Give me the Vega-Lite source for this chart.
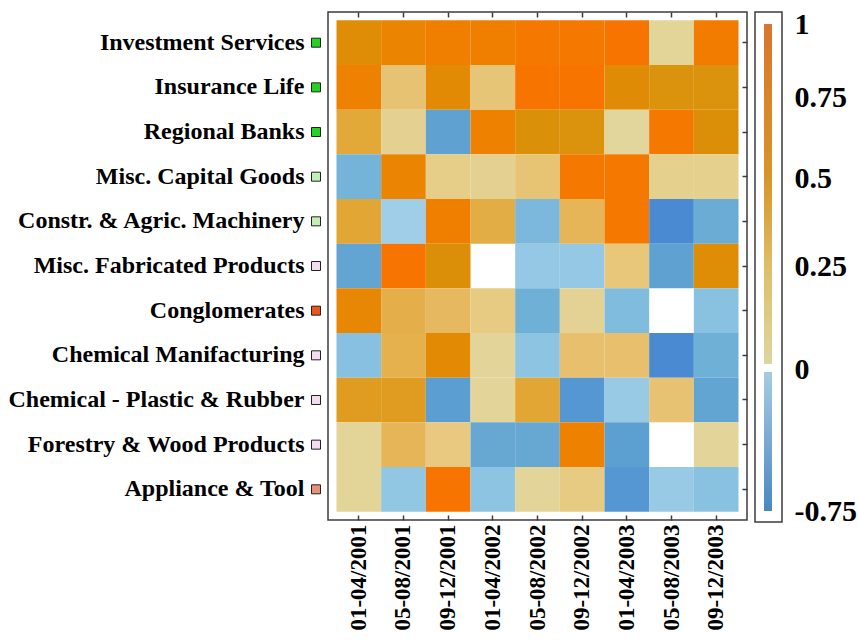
{
  "$schema": "https://vega.github.io/schema/vega-lite/v6.json",
  "background": "white",
  "padding": {"left": 8, "top": 8, "right": 0, "bottom": 0},
  "bounds": "flush",
  "config": {
    "font": "Liberation Serif",
    "view": {"stroke": null},
    "axis": {"labelFont": "Liberation Serif", "labelFontWeight": "bold", "labelColor": "black", "tickColor": "#3c3c3c", "tickWidth": 1.5, "domain": false, "title": null, "grid": false, "minExtent": 0}
  },
  "datasets": {
    "rows": [
      {"sector": "Investment Services", "group": "Financial"},
      {"sector": "Insurance Life", "group": "Financial"},
      {"sector": "Regional Banks", "group": "Financial"},
      {"sector": "Misc. Capital Goods", "group": "Capital Goods"},
      {"sector": "Constr. & Agric. Machinery", "group": "Capital Goods"},
      {"sector": "Misc. Fabricated Products", "group": "Basic Materials"},
      {"sector": "Conglomerates", "group": "Conglomerates"},
      {"sector": "Chemical Manifacturing", "group": "Basic Materials"},
      {"sector": "Chemical - Plastic & Rubber", "group": "Basic Materials"},
      {"sector": "Forestry & Wood Products", "group": "Basic Materials"},
      {"sector": "Appliance & Tool", "group": "Consumer Cyclical"}
    ],
    "cells": [
      {"s": "Investment Services", "p": "01-04/2001", "v": 0.68},
      {"s": "Investment Services", "p": "05-08/2001", "v": 0.78},
      {"s": "Investment Services", "p": "09-12/2001", "v": 0.85},
      {"s": "Investment Services", "p": "01-04/2002", "v": 0.85},
      {"s": "Investment Services", "p": "05-08/2002", "v": 0.95},
      {"s": "Investment Services", "p": "09-12/2002", "v": 0.95},
      {"s": "Investment Services", "p": "01-04/2003", "v": 1.0},
      {"s": "Investment Services", "p": "05-08/2003", "v": 0.05},
      {"s": "Investment Services", "p": "09-12/2003", "v": 0.88},
      {"s": "Insurance Life", "p": "01-04/2001", "v": 0.82},
      {"s": "Insurance Life", "p": "05-08/2001", "v": 0.18},
      {"s": "Insurance Life", "p": "09-12/2001", "v": 0.72},
      {"s": "Insurance Life", "p": "01-04/2002", "v": 0.16},
      {"s": "Insurance Life", "p": "05-08/2002", "v": 1.0},
      {"s": "Insurance Life", "p": "09-12/2002", "v": 1.0},
      {"s": "Insurance Life", "p": "01-04/2003", "v": 0.7},
      {"s": "Insurance Life", "p": "05-08/2003", "v": 0.6},
      {"s": "Insurance Life", "p": "09-12/2003", "v": 0.6},
      {"s": "Regional Banks", "p": "01-04/2001", "v": 0.4},
      {"s": "Regional Banks", "p": "05-08/2001", "v": 0.07},
      {"s": "Regional Banks", "p": "09-12/2001", "v": -0.55},
      {"s": "Regional Banks", "p": "01-04/2002", "v": 0.8},
      {"s": "Regional Banks", "p": "05-08/2002", "v": 0.62},
      {"s": "Regional Banks", "p": "09-12/2002", "v": 0.6},
      {"s": "Regional Banks", "p": "01-04/2003", "v": 0.03},
      {"s": "Regional Banks", "p": "05-08/2003", "v": 0.95},
      {"s": "Regional Banks", "p": "09-12/2003", "v": 0.63},
      {"s": "Misc. Capital Goods", "p": "01-04/2001", "v": -0.38},
      {"s": "Misc. Capital Goods", "p": "05-08/2001", "v": 0.78},
      {"s": "Misc. Capital Goods", "p": "09-12/2001", "v": 0.1},
      {"s": "Misc. Capital Goods", "p": "01-04/2002", "v": 0.07},
      {"s": "Misc. Capital Goods", "p": "05-08/2002", "v": 0.17},
      {"s": "Misc. Capital Goods", "p": "09-12/2002", "v": 0.95},
      {"s": "Misc. Capital Goods", "p": "01-04/2003", "v": 0.95},
      {"s": "Misc. Capital Goods", "p": "05-08/2003", "v": 0.08},
      {"s": "Misc. Capital Goods", "p": "09-12/2003", "v": 0.08},
      {"s": "Constr. & Agric. Machinery", "p": "01-04/2001", "v": 0.42},
      {"s": "Constr. & Agric. Machinery", "p": "05-08/2001", "v": -0.08},
      {"s": "Constr. & Agric. Machinery", "p": "09-12/2001", "v": 0.85},
      {"s": "Constr. & Agric. Machinery", "p": "01-04/2002", "v": 0.35},
      {"s": "Constr. & Agric. Machinery", "p": "05-08/2002", "v": -0.35},
      {"s": "Constr. & Agric. Machinery", "p": "09-12/2002", "v": 0.28},
      {"s": "Constr. & Agric. Machinery", "p": "01-04/2003", "v": 0.95},
      {"s": "Constr. & Agric. Machinery", "p": "05-08/2003", "v": -0.75},
      {"s": "Constr. & Agric. Machinery", "p": "09-12/2003", "v": -0.45},
      {"s": "Misc. Fabricated Products", "p": "01-04/2001", "v": -0.52},
      {"s": "Misc. Fabricated Products", "p": "05-08/2001", "v": 1.0},
      {"s": "Misc. Fabricated Products", "p": "09-12/2001", "v": 0.63},
      {"s": "Misc. Fabricated Products", "p": "01-04/2002", "v": null},
      {"s": "Misc. Fabricated Products", "p": "05-08/2002", "v": -0.18},
      {"s": "Misc. Fabricated Products", "p": "09-12/2002", "v": -0.18},
      {"s": "Misc. Fabricated Products", "p": "01-04/2003", "v": 0.15},
      {"s": "Misc. Fabricated Products", "p": "05-08/2003", "v": -0.55},
      {"s": "Misc. Fabricated Products", "p": "09-12/2003", "v": 0.68},
      {"s": "Conglomerates", "p": "01-04/2001", "v": 0.75},
      {"s": "Conglomerates", "p": "05-08/2001", "v": 0.33},
      {"s": "Conglomerates", "p": "09-12/2001", "v": 0.25},
      {"s": "Conglomerates", "p": "01-04/2002", "v": 0.12},
      {"s": "Conglomerates", "p": "05-08/2002", "v": -0.42},
      {"s": "Conglomerates", "p": "09-12/2002", "v": 0.06},
      {"s": "Conglomerates", "p": "01-04/2003", "v": -0.32},
      {"s": "Conglomerates", "p": "05-08/2003", "v": null},
      {"s": "Conglomerates", "p": "09-12/2003", "v": -0.27},
      {"s": "Chemical Manifacturing", "p": "01-04/2001", "v": -0.28},
      {"s": "Chemical Manifacturing", "p": "05-08/2001", "v": 0.32},
      {"s": "Chemical Manifacturing", "p": "09-12/2001", "v": 0.72},
      {"s": "Chemical Manifacturing", "p": "01-04/2002", "v": 0.04},
      {"s": "Chemical Manifacturing", "p": "05-08/2002", "v": -0.25},
      {"s": "Chemical Manifacturing", "p": "09-12/2002", "v": 0.2},
      {"s": "Chemical Manifacturing", "p": "01-04/2003", "v": 0.2},
      {"s": "Chemical Manifacturing", "p": "05-08/2003", "v": -0.75},
      {"s": "Chemical Manifacturing", "p": "09-12/2003", "v": -0.42},
      {"s": "Chemical - Plastic & Rubber", "p": "01-04/2001", "v": 0.5},
      {"s": "Chemical - Plastic & Rubber", "p": "05-08/2001", "v": 0.5},
      {"s": "Chemical - Plastic & Rubber", "p": "09-12/2001", "v": -0.6},
      {"s": "Chemical - Plastic & Rubber", "p": "01-04/2002", "v": 0.04},
      {"s": "Chemical - Plastic & Rubber", "p": "05-08/2002", "v": 0.42},
      {"s": "Chemical - Plastic & Rubber", "p": "09-12/2002", "v": -0.65},
      {"s": "Chemical - Plastic & Rubber", "p": "01-04/2003", "v": -0.15},
      {"s": "Chemical - Plastic & Rubber", "p": "05-08/2003", "v": 0.18},
      {"s": "Chemical - Plastic & Rubber", "p": "09-12/2003", "v": -0.52},
      {"s": "Forestry & Wood Products", "p": "01-04/2001", "v": 0.05},
      {"s": "Forestry & Wood Products", "p": "05-08/2001", "v": 0.28},
      {"s": "Forestry & Wood Products", "p": "09-12/2001", "v": 0.13},
      {"s": "Forestry & Wood Products", "p": "01-04/2002", "v": -0.48},
      {"s": "Forestry & Wood Products", "p": "05-08/2002", "v": -0.48},
      {"s": "Forestry & Wood Products", "p": "09-12/2002", "v": 0.8},
      {"s": "Forestry & Wood Products", "p": "01-04/2003", "v": -0.58},
      {"s": "Forestry & Wood Products", "p": "05-08/2003", "v": null},
      {"s": "Forestry & Wood Products", "p": "09-12/2003", "v": 0.04},
      {"s": "Appliance & Tool", "p": "01-04/2001", "v": 0.05},
      {"s": "Appliance & Tool", "p": "05-08/2001", "v": -0.2},
      {"s": "Appliance & Tool", "p": "09-12/2001", "v": 1.0},
      {"s": "Appliance & Tool", "p": "01-04/2002", "v": -0.25},
      {"s": "Appliance & Tool", "p": "05-08/2002", "v": 0.04},
      {"s": "Appliance & Tool", "p": "09-12/2002", "v": 0.12},
      {"s": "Appliance & Tool", "p": "01-04/2003", "v": -0.65},
      {"s": "Appliance & Tool", "p": "05-08/2003", "v": -0.15},
      {"s": "Appliance & Tool", "p": "09-12/2003", "v": -0.27}
    ]
  },
  "spacing": 8,
  "hconcat": [
    {
      "width": 8,
      "height": 508,
      "data": {"name": "rows"},
      "mark": {"type": "square", "size": 81, "filled": true, "opacity": 1, "stroke": "#222222", "strokeWidth": 1},
      "encoding": {
        "y": {"field": "sector", "type": "nominal", "sort": null,
              "scale": {"type": "band", "paddingInner": 0, "paddingOuter": 0.187},
              "axis": {"orient": "left", "ticks": false, "labelFontSize": 24, "labelPadding": 8, "labelLimit": 400}},
        "fill": {"field": "group", "type": "nominal", "legend": null,
                 "scale": {"domain": ["Financial", "Capital Goods", "Basic Materials", "Conglomerates", "Consumer Cyclical"],
                           "range": ["#22d422", "#c2f0b4", "#f2dcf0", "#e8561a", "#e8907a"]}}
      }
    },
    {
      "width": 419,
      "height": 508,
      "data": {"name": "cells"},
      "view": {"stroke": "#3c3c3c", "strokeWidth": 1.5},
      "layer": [
        {
          "mark": {"type": "rect"},
          "encoding": {
            "x": {"field": "p", "type": "nominal", "sort": null,
                  "scale": {"type": "band", "paddingInner": 0, "paddingOuter": 0.19},
                  "axis": {"orient": "bottom", "labelAngle": -90, "labelFontSize": 23, "tickSize": -5, "labelPadding": 9}},
            "y": {"field": "s", "type": "nominal", "sort": null,
                  "scale": {"type": "band", "paddingInner": 0, "paddingOuter": 0.187},
                  "axis": {"orient": "right", "labels": false, "tickSize": -5}},
            "color": {"field": "v", "type": "quantitative", "legend": null,
                      "scale": {"type": "linear", "interpolate": "rgb",
                                "domain": [-0.75, -0.6, -0.5, -0.4, -0.25, -0.1, -0.001, 0, 0.125, 0.25, 0.4, 0.5, 0.62, 0.72, 0.8, 0.9, 1],
                                "range": ["#4a8ad2", "#5a9ed2", "#64a6d2", "#72b2d8", "#8cc4e2", "#9ecce6", "#a8d2ea", "#e0daa6", "#e8ca80", "#e6b860", "#e2a838", "#df9c20", "#da9008", "#e28a04", "#ee8200", "#f27b00", "#f87400"]}}
          }
        },
        {
          "mark": {"type": "rect", "opacity": 0},
          "encoding": {
            "x": {"field": "p", "type": "nominal", "sort": null,
                  "axis": {"orient": "top", "labels": false, "tickSize": -5}}
          }
        }
      ],
      "resolve": {"axis": {"x": "independent"}}
    },
    {
      "width": 27,
      "height": 510,
      "view": {"stroke": "#3c3c3c", "strokeWidth": 1.5},
      "layer": [
        {
          "data": {"values": [{"lo": 0.012, "hi": 1.0}]},
          "mark": {"type": "rect", "fill": {"gradient": "linear", "x1": 0, "y1": 0, "x2": 0, "y2": 1,
                   "stops": [{"offset": 0, "color": "#d9762e"}, {"offset": 0.45, "color": "#d69628"}, {"offset": 0.72, "color": "#dfbe6a"}, {"offset": 1, "color": "#ddd6a0"}]}},
          "encoding": {
            "y": {"field": "hi", "type": "quantitative",
                  "scale": {"domain": [-0.75, 0, 0.25, 0.5, 0.75, 1], "range": [499, 357, 254, 166, 85, 12], "nice": false, "zero": false},
                  "axis": {"orient": "right", "values": [-0.75, 0, 0.25, 0.5, 0.75, 1], "ticks": false, "labelFontSize": 30, "labelPadding": 12, "labelOverlap": false, "labelExpr": "replace(format(datum.value, '~g'), '\u2212', '-')"}},
            "y2": {"field": "lo"},
            "x": {"datum": 0.333, "type": "quantitative", "scale": {"domain": [0, 1], "nice": false, "zero": false}, "axis": null},
            "x2": {"datum": 0.63}
          }
        },
        {
          "data": {"values": [{"lo": -0.75, "hi": -0.016}]},
          "mark": {"type": "rect", "fill": {"gradient": "linear", "x1": 0, "y1": 0, "x2": 0, "y2": 1,
                   "stops": [{"offset": 0, "color": "#a6cce4"}, {"offset": 1, "color": "#4b87c0"}]}},
          "encoding": {
            "y": {"field": "hi", "type": "quantitative"},
            "y2": {"field": "lo"},
            "x": {"datum": 0.333, "type": "quantitative"},
            "x2": {"datum": 0.63}
          }
        }
      ]
    }
  ],
  "resolve": {"scale": {"x": "independent", "y": "independent", "color": "independent", "fill": "independent"}}
}
